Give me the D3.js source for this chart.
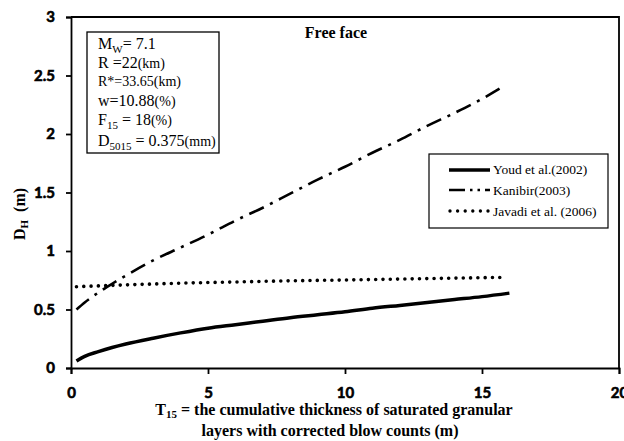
<!DOCTYPE html>
<html><head><meta charset="utf-8">
<script src="https://cdn.jsdelivr.net/npm/d3@7"></script>
<style>body{margin:0;background:#fff}svg{display:block}
.serif{font-family:"Liberation Serif","Times New Roman",serif}
</style>
</head><body><svg id="c" width="624" height="441"></svg>
<script>
const youdX = [0.2,0.5,1,1.5,2,3,4,5,6,7,8,9,10,11,12,13,14,15,16];
const youdY = [0.06,0.10,0.14,0.175,0.205,0.255,0.30,0.34,0.37,0.40,0.43,0.455,0.48,0.51,0.535,0.56,0.585,0.61,0.64];
const kanX = [0.2,0.5,1,1.5,2,3,4,5,6,7,8,9,10,11,12,13,14,15,15.8];
const kanY = [0.5,0.56,0.645,0.72,0.79,0.92,1.03,1.14,1.26,1.37,1.49,1.61,1.72,1.84,1.95,2.07,2.18,2.30,2.41];
const javX = [0.2,2,4,6,8,10,12,14,15.9];
const javY = [0.695,0.71,0.725,0.735,0.745,0.752,0.76,0.768,0.775];
const xTicks = [0,5,10,15,20];
const yTicks = [0,0.5,1,1.5,2,2.5,3];
const seriesNames = ["Youd et al.(2002)","Kanibir(2003)","Javadi et al. (2006)"];

const svg = d3.select("#c");
const L=71,R=619,T=17,B=368;
const x = d3.scaleLinear().domain([0,20]).range([L,R]);
const y = d3.scaleLinear().domain([0,3]).range([B,T]);

svg.append("path").attr("d",`M${L},${T}H${R}V${B}`).attr("fill","none").attr("stroke","#000").attr("stroke-width",1.8);

const xa = svg.append("g").attr("transform",`translate(0,${B})`)
  .call(d3.axisBottom(x).tickValues(xTicks).tickFormat(d3.format("d")).tickSize(6).tickPadding(13));
const ya = svg.append("g").attr("transform",`translate(${L},0)`)
  .call(d3.axisLeft(y).tickValues(yTicks).tickFormat(d=>String(d)).tickSize(5).tickPadding(11));
[xa,ya].forEach(g=>{
  g.select(".domain").attr("stroke","#000").attr("stroke-width",1.8);
  g.selectAll(".tick line").attr("stroke","#000").attr("stroke-width",1.8);
  g.selectAll("text").style("font-family","Lato").style("font-weight","700").style("font-size","15px")
    .attr("fill","#000").attr("stroke","#000").attr("stroke-width",0.6);
});

const line = d3.line().x(d=>x(d[0])).y(d=>y(d[1])).curve(d3.curveMonotoneX);
const zip=(a,b)=>a.map((v,i)=>[v,b[i]]);
svg.append("path").attr("d",line(zip(youdX,youdY))).attr("fill","none").attr("stroke","#000").attr("stroke-width",3.5);
svg.append("path").attr("d",line(zip(kanX,kanY))).attr("fill","none").attr("stroke","#000").attr("stroke-width",2.6).attr("stroke-dasharray","16,7,3,7");
svg.append("path").attr("d",line(zip(javX,javY))).attr("fill","none").attr("stroke","#000").attr("stroke-width",3.6).attr("stroke-linecap","round").attr("stroke-dasharray","0,7.3");

svg.append("text").attr("class","serif").attr("x",336).attr("y",38).attr("text-anchor","middle").style("font-weight","700").style("font-size","16px").text("Free face");

// info box
svg.append("rect").attr("x",87).attr("y",32).attr("width",132).attr("height",121).attr("fill","#fff").attr("stroke","#000").attr("stroke-width",1.3);
const info = [
  [["M",16,0],["W",11,1],["= 7.1",16,0]],
  [["R =22",16,0],["(km)",14,0]],
  [["R*=33.65",14,0],["(km)",14,0]],
  [["w=10.88",16,0],["(%)",14,0]],
  [["F",16,0],["15",11,1],[" = 18",16,0],["(%)",14,0]],
  [["D",16,0],["5015",11,1],[" = 0.375",16,0],["(mm)",14,0]]
];
const baselines=[49,68,86,106,125,146];
info.forEach((parts,i)=>{
  const t=svg.append("text").attr("class","serif").attr("x",98).attr("y",baselines[i]).attr("xml:space","preserve");
  let prevSub=false;
  parts.forEach(p=>{
    const ts=t.append("tspan").style("font-size",p[1]+"px").text(p[0]);
    if(p[2]) ts.attr("dy",4); else if(prevSub) ts.attr("dy",-4);
    prevSub=!!p[2];
  });
});

// legend
svg.append("rect").attr("x",429).attr("y",154).attr("width",179).attr("height",74).attr("fill","#fff").attr("stroke","#000").attr("stroke-width",1.2);
const ly=[170,190,211], ty=[174,195,216];
svg.append("line").attr("x1",449).attr("x2",490).attr("y1",ly[0]).attr("y2",ly[0]).attr("stroke","#000").attr("stroke-width",3.5);
svg.append("line").attr("x1",449).attr("x2",490).attr("y1",ly[1]).attr("y2",ly[1]).attr("stroke","#000").attr("stroke-width",2.6).attr("stroke-dasharray","16,5,2.5,5,2.5,5,8");
svg.append("line").attr("x1",450).attr("x2",489).attr("y1",ly[2]).attr("y2",ly[2]).attr("stroke","#000").attr("stroke-width",3.4).attr("stroke-linecap","round").attr("stroke-dasharray","0,7.6");
seriesNames.forEach((s,i)=>svg.append("text").attr("class","serif").attr("x",493).attr("y",ty[i]).style("font-size","13.5px").text(s));

// axis titles
const yl=svg.append("text").attr("class","serif").attr("transform","translate(25,214) rotate(-90)").attr("text-anchor","middle").style("font-weight","700").style("font-size","16px").attr("xml:space","preserve");
yl.append("tspan").text("D");
yl.append("tspan").style("font-size","11px").attr("dy",3).text("H");
yl.append("tspan").attr("dy",-3).text("  (m)");

const xl=svg.append("text").attr("class","serif").attr("x",334).attr("y",415).attr("text-anchor","middle").style("font-weight","700").style("font-size","16px");
xl.append("tspan").text("T");
xl.append("tspan").style("font-size","11px").attr("dy",3).text("15");
xl.append("tspan").attr("dy",-3).text(" = the cumulative thickness of saturated granular");
svg.append("text").attr("class","serif").attr("x",330).attr("y",436).attr("text-anchor","middle").style("font-weight","700").style("font-size","16px").text("layers with corrected blow counts (m)");
</script></body></html>
